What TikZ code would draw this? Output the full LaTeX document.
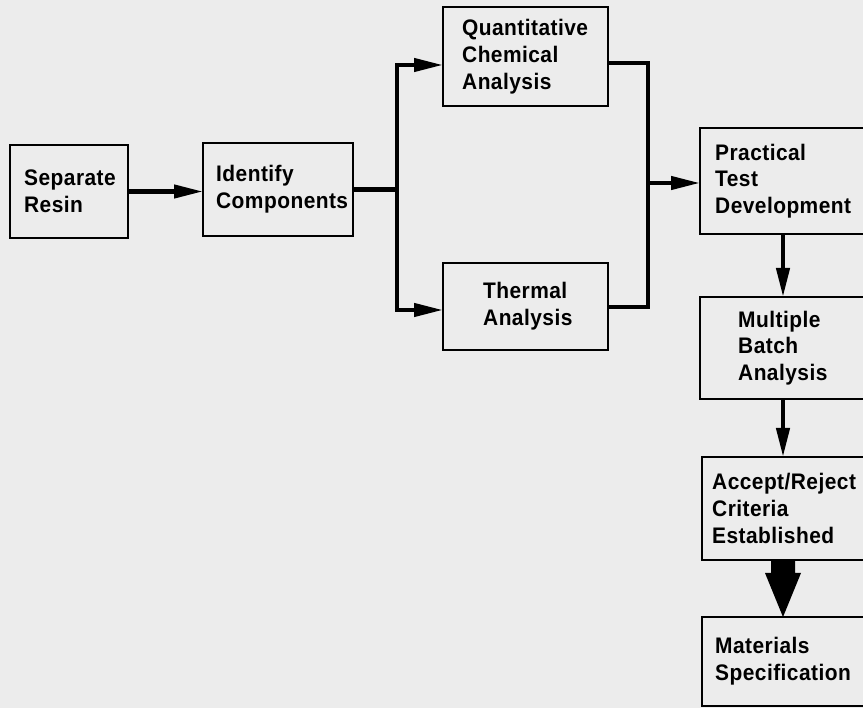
\documentclass[tikz,border=0pt]{standalone}
\usepackage{fontspec}
\newfontfamily\boxfont{Liberation Sans}[FakeStretch=0.93,LetterSpace=2.0]
\usetikzlibrary{arrows.meta}
\definecolor{bgc}{RGB}{236,236,236}
\tikzset{
  box/.style={draw=black, line width=2.8pt, anchor=north west, inner sep=0pt, outer sep=0pt},
  txt/.style={anchor=west, align=left, inner sep=0pt,
    font=\boxfont\bfseries\fontsize{22.5}{26.7}\selectfont},
  conn/.style={line width=4.3pt},
  arr/.style={conn, -{Triangle[length=29pt,width=13pt]}},
}
\begin{document}
\begin{tikzpicture}[x=1pt,y=-1pt]
\useasboundingbox (0,0) rectangle (863,708);
\fill[bgc] (0,0) rectangle (863,708);
\clip (0,0) rectangle (863,708);
% boxes
\node[box, minimum width=118pt, minimum height=93pt] (sep) at (10,145) {};
\node[box, minimum width=150pt, minimum height=93pt] (ident) at (203,143) {};
\node[box, minimum width=165pt, minimum height=99pt] (quant) at (443,7) {};
\node[box, minimum width=165pt, minimum height=87pt] (therm) at (443,263) {};
\node[box, minimum width=175pt, minimum height=106pt] (prac) at (700,128) {};
\node[box, minimum width=175pt, minimum height=102pt] (mult) at (700,297) {};
\node[box, minimum width=173pt, minimum height=103pt] (acc) at (702,457) {};
\node[box, minimum width=173pt, minimum height=89pt] (mat) at (702,617) {};
% texts
\node[txt] (sepT) at ([xshift=14pt]sep.west) {Separate\\Resin};
\node[txt] (identT) at ([xshift=13pt]ident.west) {Identify\\Components};
\node[txt] (quantT) at ([xshift=19pt]quant.west) {Quantitative\\Chemical\\Analysis};
\node[txt] (thermT) at ([xshift=40pt]therm.west) {Thermal\\Analysis};
\node[txt] (pracT) at ([xshift=15pt]prac.west) {Practical\\Test\\Development};
\node[txt] (multT) at ([xshift=38pt]mult.west) {Multiple\\Batch\\Analysis};
\node[txt] (accT) at ([xshift=10pt]acc.west) {Accept/Reject\\Criteria\\Established};
\node[txt] (matT) at ([xshift=13pt]mat.west) {Materials\\Specification};
% connectors
\coordinate (jl) at (397,0);
\coordinate (qin) at (397,65);
\coordinate (tin) at (397,310);
\coordinate (qout) at (648,63);
\coordinate (tout) at (648,307);
\coordinate (pin) at (648,183);
\coordinate (ax) at (783,0);
\draw[arr] (sep.east) -- (sep.east -| ident.west);
\draw[conn] (ident.east) -- (ident.east -| jl);
\draw[conn, line cap=rect] (qin) -- (tin);
\draw[arr] (qin) -- (qin -| quant.west);
\draw[arr] (tin) -- (tin -| therm.west);
\draw[conn, line join=miter] (quant.east |- qout) -- (qout) -- (tout) -- (therm.east |- tout);
\draw[arr] (pin) -- (pin -| prac.west);
\draw[arr] (prac.south -| ax) -- (mult.north -| ax);
\draw[arr] (mult.south -| ax) -- (acc.north -| ax);
\coordinate (bt) at (acc.south -| ax);
\fill ([xshift=-12pt]bt) -- ([xshift=12pt]bt) -- ([xshift=12pt,yshift=-13pt]bt)
  -- ([xshift=18pt,yshift=-13pt]bt) -- (mat.north -| ax)
  -- ([xshift=-18pt,yshift=-13pt]bt) -- ([xshift=-12pt,yshift=-13pt]bt) -- cycle;
\end{tikzpicture}
\end{document}
